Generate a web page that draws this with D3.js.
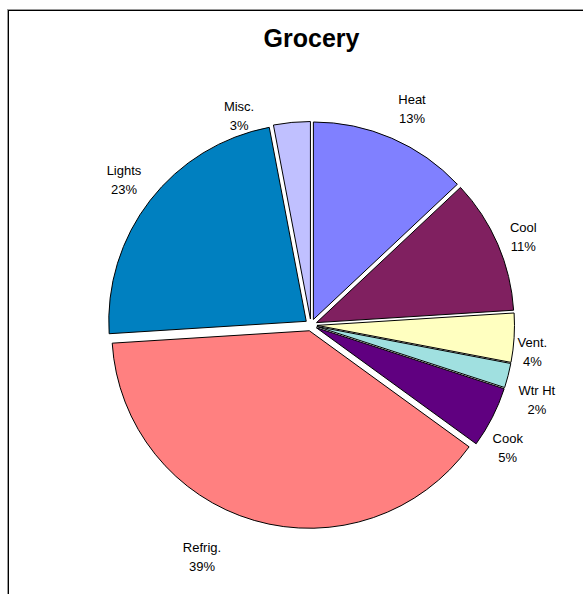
<!DOCTYPE html>
<html>
<head>
<meta charset="utf-8">
<script src="https://cdn.jsdelivr.net/npm/d3@7"></script>
<style>
  html, body { margin: 0; padding: 0; background: #fff; overflow: hidden; }
  text { font-family: "Liberation Sans", Arial, sans-serif; }
</style>
</head>
<body>
<svg id="chart" width="583" height="594"></svg>
<script>
// Grocery energy end-use shares (percent)
const categories = ["Heat", "Cool", "Vent.", "Wtr Ht", "Cook", "Refrig.", "Lights", "Misc."];
const shares = [13, 11, 4, 2, 5, 39, 23, 3];

// slice fills, in the same order as the categories
const fills = ["#8080ff", "#802060", "#ffffc0", "#a0e0e0", "#600080", "#ff8080", "#0080c0", "#c0c0ff"];

// label placement tweaks: [angle nudge in degrees, extra radius in px]
const labelNudge = [[1.6, 4], [0.8, -5], [3.3, -12], [4, 3], [5, -3], [9, 21], [0.1, 2], [-13.6, -14]];

const W = 583, H = 594;
const cx = 311, cy = 325;
const radius = 197.5;
const explode = 6;
const labelRadius = 235;

const svg = d3.select("#chart");

// chart frame (runs off the right and bottom edges)
svg.append("rect")
  .attr("x", 7.5).attr("y", 9.5).attr("width", W + 20).attr("height", H + 20)
  .attr("fill", "none").attr("stroke", "#9a9a9a").attr("stroke-width", 1);
svg.append("rect")
  .attr("x", 8.5).attr("y", 10.5).attr("width", W + 20).attr("height", H + 20)
  .attr("fill", "none").attr("stroke", "#000").attr("stroke-width", 1);

// title
svg.append("text")
  .attr("x", 311.5).attr("y", 47)
  .attr("text-anchor", "middle")
  .attr("font-size", 25).attr("font-weight", "bold")
  .attr("fill", "#000")
  .text("Grocery");

const pie = d3.pie().sort(null).value(d => d.value);
const slices = pie(categories.map((c, i) => ({ name: c, value: shares[i], fill: fills[i], nudge: labelNudge[i] })));
const arc = d3.arc().innerRadius(0).outerRadius(radius);
const mid = a => (a.startAngle + a.endAngle) / 2;

const g = svg.append("g").attr("transform", `translate(${cx},${cy})`);

// data labels: name on the first line, percentage on the second
const labels = g.append("g");
slices.forEach(s => {
  const t = mid(s) + s.data.nudge[0] * Math.PI / 180;
  const r = labelRadius + s.data.nudge[1];
  const x = r * Math.sin(t), y = -r * Math.cos(t);
  const txt = labels.append("text")
    .attr("text-anchor", "middle")
    .attr("font-size", 13)
    .attr("fill", "#000");
  txt.append("tspan").attr("x", x).attr("y", y - 9.5 + 4.7).text(s.data.name);
  txt.append("tspan").attr("x", x).attr("y", y + 9.5 + 4.7).text(Math.round(s.data.value) + "%");
});

// exploded slices
g.append("g").selectAll("path")
  .data(slices)
  .join("path")
  .attr("transform", s => `translate(${explode * Math.sin(mid(s))},${-explode * Math.cos(mid(s))})`)
  .attr("d", arc)
  .attr("fill", s => s.data.fill)
  .attr("stroke", "#000")
  .attr("stroke-width", 1)
  .attr("stroke-linejoin", "miter");
</script>
</body>
</html>
